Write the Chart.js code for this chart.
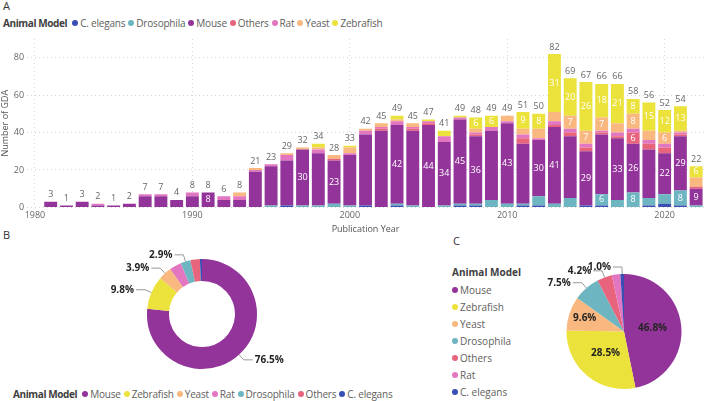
<!DOCTYPE html>
<html>
<head>
<meta charset="utf-8">
<script src="https://cdn.jsdelivr.net/npm/chart.js@4.4.0/dist/chart.umd.min.js"></script>
<style>
body { margin:0; width:708px; height:401px; background:#fff; font-family:"Open Sans", sans-serif; position:relative; overflow:hidden; }
.tag { position:absolute; font-size:11px; color:#333; line-height:12px; }
.legend { position:absolute; font-size:10px; color:#605E5C; white-space:nowrap; line-height:14px; display:flex; align-items:center; letter-spacing:-0.2px; }
.legend b { color:#404040; font-weight:700; margin-right:5px; font-size:10px; letter-spacing:-0.4px; }
.legend .item { display:flex; align-items:center; margin-right:3px; }
.legend.col { display:block; letter-spacing:0; }
.legend.col b { display:block; margin-bottom:2px; font-size:10px; letter-spacing:0; }
.legend.col .item { height:17px; }
.dot { display:inline-block; width:6px; height:6px; border-radius:50%; margin-right:2px; }
.box { position:absolute; }
</style>
</head>
<body>
<div class="tag" style="left:3px;top:0px">A</div>
<div class="tag" style="left:3px;top:229px">B</div>
<div class="tag" style="left:453px;top:235px">C</div>

<div class="legend" id="legA" style="left:3px;top:16px"></div>
<div class="box" style="left:0;top:30px;width:708px;height:205px"><canvas id="barChart"></canvas></div>

<div class="box" style="left:0;top:235px;width:420px;height:150px"><canvas id="donutChart"></canvas></div>
<div class="legend" id="legB" style="left:13px;top:387px"></div>

<div class="legend col" id="legC" style="left:452px;top:265px"></div>
<div class="box" style="left:420px;top:235px;width:288px;height:166px"><canvas id="pieChart"></canvas></div>

<script>
// publication years 1980..2022 (1980 has no records)
const years = [1980, 1981, 1982, 1983, 1984, 1985, 1986, 1987, 1988, 1989,
               1990, 1991, 1992, 1993, 1994, 1995, 1996, 1997, 1998, 1999,
               2000, 2001, 2002, 2003, 2004, 2005, 2006, 2007, 2008, 2009,
               2010, 2011, 2012, 2013, 2014, 2015, 2016, 2017, 2018, 2019,
               2020, 2021, 2022];

const cElegans   = [0, 0,0,0,0,0,0,0,0,0, 0,0,0,0,0,0,1,0,0,0, 0,1,0,1,0,0,0,1,1,0, 0,1,1,0,0,1,1,0,0,1, 2,1,0];
const drosophila = [0, 0,0,0,0,0,0,0,0,0, 0,0,0,0,0,1,0,1,1,2, 1,0,0,1,1,0,1,1,1,4, 2,1,5,2,5,0,6,4,8,4, 5,8,1];
const mouse      = [0, 3,1,3,1,1,2,6,6,4, 6,8,4,4,19,21,24,30,28,23, 27,38,41,42,40,44,34,45,36,37, 43,32,30,41,33,29,32,33,26,26, 22,29,9];
const others     = [0, 0,0,0,0,0,0,0,0,0, 0,0,0,0,0,0,0,0,0,1, 0,0,1,0,1,1,0,0,1,0, 0,3,0,1,2,2,1,1,6,3, 3,1,1];
const rat        = [0, 0,0,0,1,0,0,1,1,0, 2,0,2,2,1,1,3,0,2,0, 1,2,1,2,1,1,3,1,1,2, 1,2,1,2,2,2,1,2,2,2, 2,1,0];
const yeast      = [0, 0,0,0,0,0,0,0,0,0, 0,0,0,2,1,0,1,1,1,2, 3,1,2,1,2,0,0,0,2,0, 3,3,5,5,7,7,7,5,8,5, 6,1,5];
const zebrafish  = [0, 0,0,0,0,0,0,0,0,0, 0,0,0,0,0,0,0,0,2,0, 1,0,0,2,0,1,3,1,6,6, 0,9,8,31,20,26,18,21,8,15, 12,13,6];

// years whose segment value is printed inside the bar
const mouseLabelYears      = [1991, 1997, 1999, 2003, 2005, 2006, 2007, 2008, 2010, 2012, 2013, 2015, 2017, 2018, 2020, 2021, 2022];
const zebrafishLabelYears  = [2008, 2009, 2011, 2012, 2013, 2014, 2015, 2016, 2017, 2018, 2019, 2020, 2021, 2022];
const yeastLabelYears      = [2014, 2015, 2016, 2018, 2020];
const drosophilaLabelYears = [2016, 2018, 2021];
const othersLabelYears     = [2018];

// panel B: share of GDA by animal model (%)
const donutModels  = ['Mouse', 'Zebrafish', 'Yeast', 'Rat', 'Drosophila', 'Others', 'C. elegans'];
const donutShares  = [76.5, 9.8, 3.9, 3.5, 2.9, 2.8, 0.6];
const donutLabeled = ['Mouse', 'Zebrafish', 'Yeast', 'Drosophila'];

// panel C
const pieModels  = ['Mouse', 'Zebrafish', 'Yeast', 'Drosophila', 'Others', 'Rat', 'C. elegans'];
const pieShares  = [46.8, 28.5, 9.6, 7.5, 4.2, 2.4, 1.0];
const pieInside  = ['Mouse', 'Zebrafish', 'Yeast'];
const pieOutside = ['Drosophila', 'Others', 'C. elegans'];

const colors = {
    'C. elegans': '#3A4FB4',
    'Drosophila': '#6DB6C1',
    'Mouse': '#93349A',
    'Others': '#E8647C',
    'Rat': '#E276C0',
    'Yeast': '#F8B880',
    'Zebrafish': '#EBE23B'
};

const FONT = '"Open Sans", sans-serif';

function buildLegend(id, names) {
    const el = document.getElementById(id);
    let html = '<b>Animal Model</b>';
    names.forEach(n => {
        html += `<span class="item"><span class="dot" style="background:${colors[n]}"></span>${n}</span>`;
    });
    el.innerHTML = html;
}

const barSeries = [
    { name: 'C. elegans', data: cElegans, labels: [] },
    { name: 'Drosophila', data: drosophila, labels: drosophilaLabelYears },
    { name: 'Mouse', data: mouse, labels: mouseLabelYears },
    { name: 'Others', data: others, labels: othersLabelYears },
    { name: 'Rat', data: rat, labels: [] },
    { name: 'Yeast', data: yeast, labels: yeastLabelYears },
    { name: 'Zebrafish', data: zebrafish, labels: zebrafishLabelYears }
];

buildLegend('legA', barSeries.map(s => s.name));
buildLegend('legB', donutModels);
buildLegend('legC', pieModels);

// totals on top + values inside the segments
const barLabels = {
    id: 'barLabels',
    afterDatasetsDraw(chart) {
        const ctx = chart.ctx;
        ctx.save();
        ctx.font = '9px ' + FONT;
        ctx.textAlign = 'center';
        ctx.textBaseline = 'middle';
        ctx.fillStyle = '#fff';
        chart.data.datasets.forEach((ds, di) => {
            const meta = chart.getDatasetMeta(di);
            meta.data.forEach((el, i) => {
                if (barSeries[di].labels.includes(years[i]) && ds.data[i] > 0) {
                    ctx.fillText(ds.data[i], el.x, (el.y + el.base) / 2);
                }
            });
        });
        ctx.fillStyle = '#666';
        years.forEach((y, i) => {
            let total = 0, top = Infinity, x = 0;
            chart.data.datasets.forEach((ds, di) => {
                const el = chart.getDatasetMeta(di).data[i];
                total += ds.data[i];
                top = Math.min(top, el.y);
                x = el.x;
            });
            if (total > 0) ctx.fillText(total, x, top - 7);
        });
        ctx.restore();
    }
};

new Chart(document.getElementById('barChart'), {
    type: 'bar',
    data: {
        labels: years,
        datasets: barSeries.map(s => ({
            label: s.name,
            data: s.data,
            backgroundColor: colors[s.name],
            barPercentage: 0.82,
            categoryPercentage: 1
        }))
    },
    options: {
        responsive: true,
        maintainAspectRatio: false,
        animation: false,
        layout: { padding: { left: 0, right: 4, top: 9, bottom: 0 } },
        plugins: { legend: { display: false }, tooltip: { enabled: false } },
        scales: {
            x: {
                stacked: true,
                border: { display: false, dash: [1, 3] },
                grid: {
                    offset: false,
                    drawTicks: false,
                    color: c => (years[c.index] % 10 === 0) ? '#d6d6d6' : 'rgba(0,0,0,0)'
                },
                ticks: {
                    autoSkip: false,
                    maxRotation: 0,
                    padding: 3,
                    color: '#666',
                    font: { family: FONT, size: 9 },
                    callback: (v, i) => (years[i] % 10 === 0 ? String(years[i]) : '')
                },
                title: { display: true, text: 'Publication Year', color: '#555', font: { family: FONT, size: 9 }, padding: { top: 0, bottom: 0 } }
            },
            y: {
                stacked: true,
                min: 0,
                max: 90,
                border: { display: false, dash: [1, 3] },
                grid: { color: '#d6d6d6', drawTicks: false },
                afterBuildTicks: s => { s.ticks = s.ticks.filter(t => t.value % 20 === 0); },
                ticks: { stepSize: 20, padding: 3, color: '#666', font: { family: FONT, size: 9 } },
                title: { display: true, text: 'Number of GDA', color: '#555', font: { family: FONT, size: 9 }, padding: { top: 0, bottom: 0 } }
            }
        }
    },
    plugins: [barLabels]
});

// labels for pie / doughnut slices
function sliceLabels(inside, outside) {
    return {
        id: 'sliceLabels',
        afterDatasetsDraw(chart) {
            const ctx = chart.ctx;
            const meta = chart.getDatasetMeta(0);
            const names = chart.data.labels;
            const vals = chart.data.datasets[0].data;
            ctx.save();
            ctx.font = 'bold 10px ' + FONT;
            ctx.textBaseline = 'middle';
            meta.data.forEach((arc, i) => {
                const txt = vals[i].toFixed(1) + '%';
                const mid = (arc.startAngle + arc.endAngle) / 2;
                const cx = arc.x, cy = arc.y, r = arc.outerRadius;
                const dx = Math.cos(mid), dy = Math.sin(mid);
                if (inside.includes(names[i])) {
                    const f = vals[i] > 20 ? 0.5 : 0.72;
                    ctx.fillStyle = '#252423';
                    ctx.textAlign = 'center';
                    ctx.fillText(txt, cx + dx * r * f, cy + dy * r * f);
                } else if (outside.includes(names[i])) {
                    const side = dx >= 0 ? 1 : -1;
                    const x0 = cx + dx * r, y0 = cy + dy * r;
                    const x1 = cx + dx * (r + 7), y1 = cy + dy * (r + 7);
                    const x2 = x1 + side * 9;
                    ctx.strokeStyle = '#999';
                    ctx.lineWidth = 1;
                    ctx.beginPath();
                    ctx.moveTo(x0, y0);
                    ctx.lineTo(x1, y1);
                    ctx.lineTo(x2, y1);
                    ctx.stroke();
                    ctx.fillStyle = '#252423';
                    ctx.textAlign = side > 0 ? 'left' : 'right';
                    ctx.fillText(txt, x2 + side * 2, y1);
                }
            });
            ctx.restore();
        }
    };
}

new Chart(document.getElementById('donutChart'), {
    type: 'doughnut',
    data: {
        labels: donutModels,
        datasets: [{ data: donutShares, backgroundColor: donutModels.map(n => colors[n]), borderWidth: 0 }]
    },
    options: {
        responsive: true,
        maintainAspectRatio: false,
        animation: false,
        cutout: '60%',
        layout: { padding: { left: 147, right: 163, top: 24, bottom: 16 } },
        plugins: { legend: { display: false }, tooltip: { enabled: false } }
    },
    plugins: [sliceLabels([], donutLabeled)]
});

new Chart(document.getElementById('pieChart'), {
    type: 'pie',
    data: {
        labels: pieModels,
        datasets: [{ data: pieShares, backgroundColor: pieModels.map(n => colors[n]), borderWidth: 0 }]
    },
    options: {
        responsive: true,
        maintainAspectRatio: false,
        animation: false,
        layout: { padding: { left: 146, right: 26, top: 39, bottom: 12 } },
        plugins: { legend: { display: false }, tooltip: { enabled: false } }
    },
    plugins: [sliceLabels(pieInside, pieOutside)]
});
</script>
</body>
</html>
